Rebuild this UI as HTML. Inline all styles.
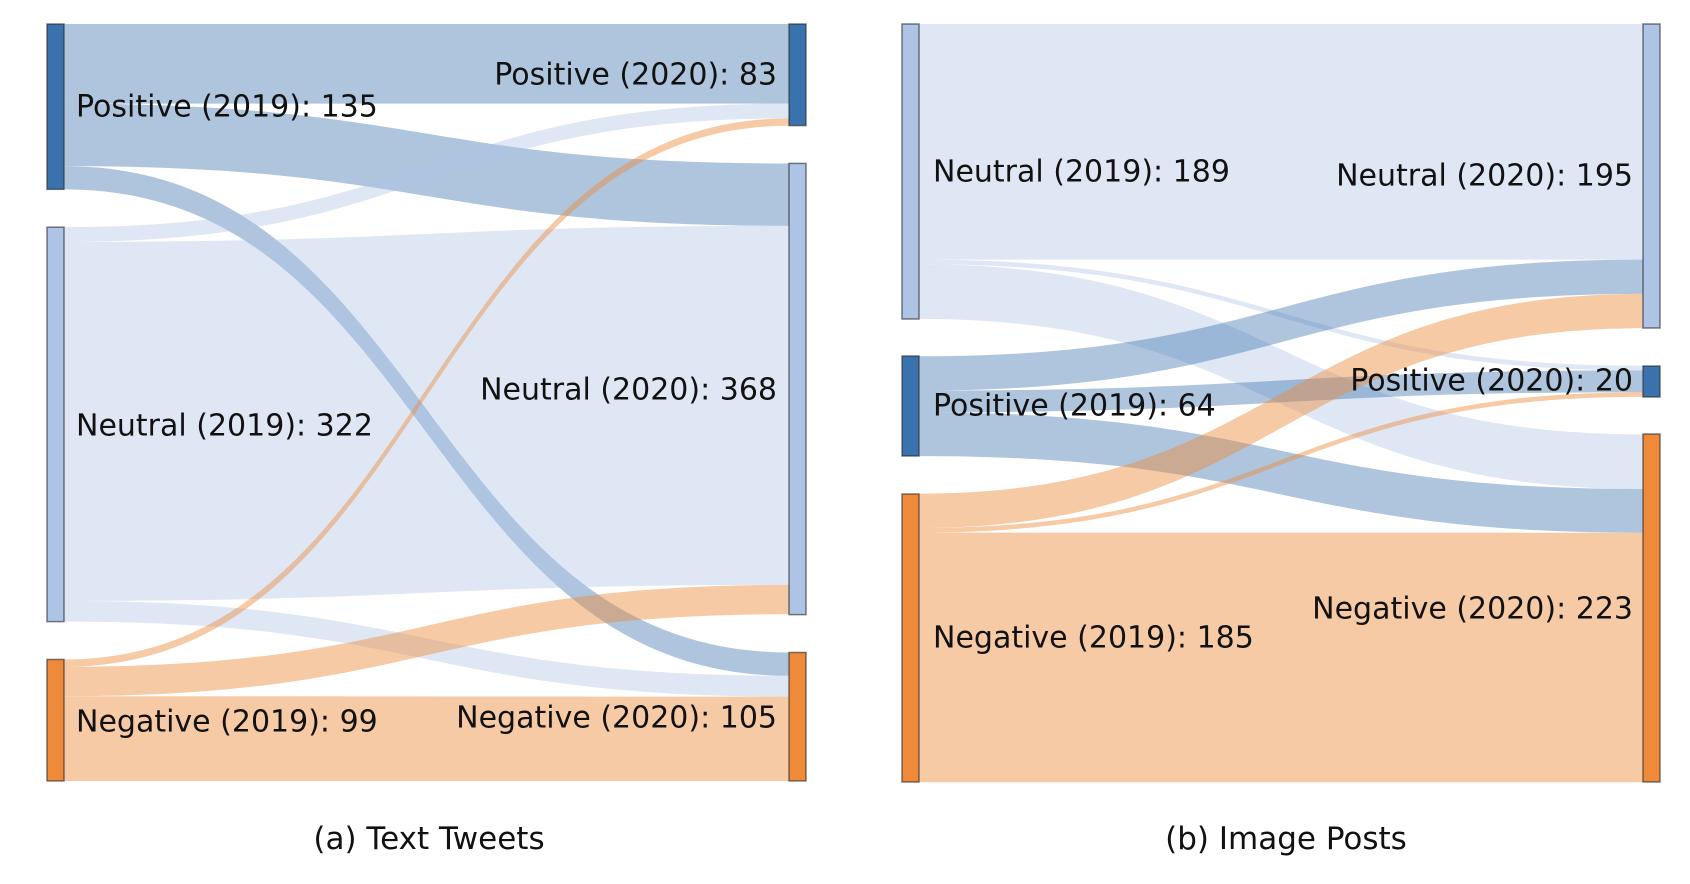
<!DOCTYPE html>
<html><head><meta charset="utf-8"><style>
html,body{margin:0;padding:0;background:#fff}
svg{display:block}
text{font-family:"DejaVu Sans","Liberation Sans",sans-serif;font-size:30px;fill:#111}
.c{font-size:31px}
.p{fill:rgba(58,114,173,0.41)}
.n{fill:rgba(174,196,230,0.4)}
.g{fill:rgba(238,138,58,0.45)}
.nd{stroke:rgba(40,40,40,0.6);stroke-width:1.5}
</style></head><body>
<svg width="1690" height="884" viewBox="0 0 1690 884" xmlns="http://www.w3.org/2000/svg">
<g transform="translate(0,24) scale(1,0.996) translate(0,-24)">
<path class="p" d="M64 24 C426.5 24 426.5 24 789 24 L789 104 C426.5 104 426.5 104 64 104 Z"/>
<path class="p" d="M64 104 C426.5 104 426.5 164 789 164 L789 226.7 C426.5 226.7 426.5 166.7 64 166.7 Z"/>
<path class="p" d="M64 166.7 C426.5 166.7 426.5 655 789 655 L789 678.4 C426.5 678.4 426.5 190 64 190 Z"/>
<path class="n" d="M64 228 C426.5 228 426.5 104 789 104 L789 118.8 C426.5 118.8 426.5 242.8 64 242.8 Z"/>
<path class="n" d="M64 242.8 C426.5 242.8 426.5 226.7 789 226.7 L789 587.1 C426.5 587.1 426.5 603.2 64 603.2 Z"/>
<path class="n" d="M64 603.2 C426.5 603.2 426.5 678.4 789 678.4 L789 699.3 C426.5 699.3 426.5 624 64 624 Z"/>
<path class="g" d="M64 662 C426.5 662 426.5 118.8 789 118.8 L789 126.2 C426.5 126.2 426.5 669.4 64 669.4 Z"/>
<path class="g" d="M64 669.4 C426.5 669.4 426.5 587.1 789 587.1 L789 616.6 C426.5 616.6 426.5 698.9 64 698.9 Z"/>
<path class="g" d="M64 698.9 C426.5 698.9 426.5 699.3 789 699.3 L789 784 C426.5 784 426.5 784 64 784 Z"/>
<rect class="nd" x="47" y="24" width="17" height="166" fill="#3a72ad"/>
<rect class="nd" x="47" y="228" width="17" height="396" fill="#aec4e6"/>
<rect class="nd" x="47" y="662" width="17" height="122" fill="#ee8a3a"/>
<rect class="nd" x="789" y="24" width="17" height="102" fill="#3a72ad"/>
<rect class="nd" x="789" y="164" width="17" height="453" fill="#aec4e6"/>
<rect class="nd" x="789" y="655" width="17" height="129" fill="#ee8a3a"/>
</g>
<text x="76" y="107" dominant-baseline="central">Positive (2019): 135</text>
<text x="76" y="426" dominant-baseline="central">Neutral (2019): 322</text>
<text x="76" y="722" dominant-baseline="central">Negative (2019): 99</text>
<text x="777" y="75" text-anchor="end" dominant-baseline="central">Positive (2020): 83</text>
<text x="777" y="390" text-anchor="end" dominant-baseline="central">Neutral (2020): 368</text>
<text x="777" y="718" text-anchor="end" dominant-baseline="central">Negative (2020): 105</text>
<text class="c" x="429" y="839" text-anchor="middle" dominant-baseline="central">(a) Text Tweets</text>

<path class="n" d="M919 24 C1281 24 1281 24 1643 24 L1643 259.6 C1281 259.6 1281 259.6 919 259.6 Z"/>
<path class="n" d="M919 259.6 C1281 259.6 1281 365.7 1643 365.7 L1643 370.4 C1281 370.4 1281 264.3 919 264.3 Z"/>
<path class="n" d="M919 264.3 C1281 264.3 1281 434.4 1643 434.4 L1643 489 C1281 489 1281 318.9 919 318.9 Z"/>
<path class="p" d="M919 356.3 C1281 356.3 1281 259.6 1643 259.6 L1643 293.9 C1281 293.9 1281 390.6 919 390.6 Z"/>
<path class="p" d="M919 390.6 C1281 390.6 1281 370.4 1643 370.4 L1643 392.2 C1281 392.2 1281 412.4 919 412.4 Z"/>
<path class="p" d="M919 412.4 C1281 412.4 1281 489 1643 489 L1643 532.7 C1281 532.7 1281 456.1 919 456.1 Z"/>
<path class="g" d="M919 493.6 C1281 493.6 1281 293.9 1643 293.9 L1643 328.2 C1281 328.2 1281 527.9 919 527.9 Z"/>
<path class="g" d="M919 527.9 C1281 527.9 1281 392.2 1643 392.2 L1643 396.9 C1281 396.9 1281 532.6 919 532.6 Z"/>
<path class="g" d="M919 532.6 C1281 532.6 1281 532.7 1643 532.7 L1643 782.3 C1281 782.3 1281 782.2 919 782.2 Z"/>
<rect class="nd" x="902" y="24" width="17" height="295" fill="#aec4e6"/>
<rect class="nd" x="902" y="356" width="17" height="100" fill="#3a72ad"/>
<rect class="nd" x="902" y="494" width="17" height="288" fill="#ee8a3a"/>
<rect class="nd" x="1643" y="24" width="17" height="304" fill="#aec4e6"/>
<rect class="nd" x="1643" y="366" width="17" height="31" fill="#3a72ad"/>
<rect class="nd" x="1643" y="434" width="17" height="348" fill="#ee8a3a"/>
<text x="933" y="172" dominant-baseline="central">Neutral (2019): 189</text>
<text x="933" y="406" dominant-baseline="central">Positive (2019): 64</text>
<text x="933" y="638" dominant-baseline="central">Negative (2019): 185</text>
<text x="1633" y="176" text-anchor="end" dominant-baseline="central">Neutral (2020): 195</text>
<text x="1633" y="381" text-anchor="end" dominant-baseline="central">Positive (2020): 20</text>
<text x="1633" y="609" text-anchor="end" dominant-baseline="central">Negative (2020): 223</text>
<text class="c" x="1286" y="839" text-anchor="middle" dominant-baseline="central">(b) Image Posts</text>
</svg>
</body></html>
